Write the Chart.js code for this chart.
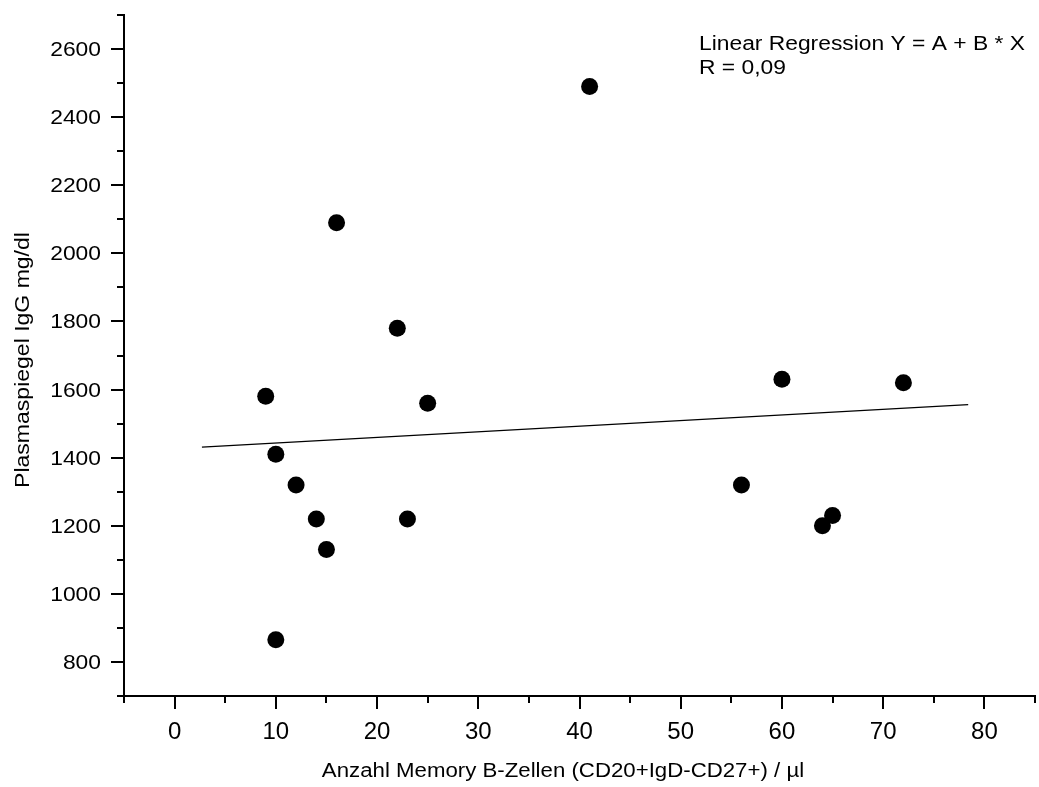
<!DOCTYPE html>
<html>
<head>
    <title>Plasmaspiegel IgG vs Memory B-Zellen</title>
    <script src="https://cdn.jsdelivr.net/npm/chart.js@4/dist/chart.umd.min.js"></script>
    <style>
        body { margin: 0; background: #fff; }
    </style>
</head>
<body>
    <canvas id="myChart" width="1039" height="787"></canvas>

    <script>
        var cellCounts = [9, 10, 10, 12, 14, 15, 16, 22, 23, 25, 41, 56, 60, 64, 65, 72];
        var iggLevels = [1580, 1410, 865, 1320, 1220, 1130, 2090, 1780, 1220, 1560, 2490, 1320, 1630, 1200, 1230, 1620];

        // fitted line, end points
        var regX = [2.7, 78.4];
        var regY = [1431, 1556];

        // axis ticks
        var xMajor = [0, 10, 20, 30, 40, 50, 60, 70, 80];
        var xMinor = [-5, 5, 15, 25, 35, 45, 55, 65, 75, 85];
        var yMajor = [800, 1000, 1200, 1400, 1600, 1800, 2000, 2200, 2400, 2600];
        var yMinor = [700, 900, 1100, 1300, 1500, 1700, 1900, 2100, 2300, 2500, 2700];

        var xTitle = 'Anzahl Memory B-Zellen (CD20+IgD-CD27+) / \u00b5l';
        var yTitle = 'Plasmaspiegel IgG mg/dl';
        var noteLines = ['Linear Regression Y = A + B * X', 'R = 0,09'];

        var FONT = '"Liberation Sans", Arial, sans-serif';

        function drawText(ctx, str, x, y, size, sx, align, rot) {
            ctx.save();
            ctx.translate(x, y);
            if (rot) ctx.rotate(rot);
            ctx.scale(sx, 1);
            ctx.font = size + 'px ' + FONT;
            ctx.fillStyle = '#000';
            ctx.textAlign = align;
            ctx.textBaseline = 'alphabetic';
            ctx.fillText(str, 0, 0);
            ctx.restore();
        }

        // ticks, tick labels, titles and the note
        var axisDecor = {
            id: 'axisDecor',
            afterDraw: function (chart) {
                var ctx = chart.ctx;
                var xs = chart.scales.x, ys = chart.scales.y;
                var area = chart.chartArea;
                var left = area.left, bottom = area.bottom;

                ctx.save();
                ctx.strokeStyle = '#000';
                ctx.lineWidth = 2;
                ctx.beginPath();
                xMajor.forEach(function (v) {
                    var px = Math.round(xs.getPixelForValue(v));
                    ctx.moveTo(px, bottom); ctx.lineTo(px, bottom + 13);
                });
                xMinor.forEach(function (v) {
                    var px = Math.round(xs.getPixelForValue(v));
                    ctx.moveTo(px, bottom); ctx.lineTo(px, bottom + 7);
                });
                yMajor.forEach(function (v) {
                    var py = Math.round(ys.getPixelForValue(v));
                    ctx.moveTo(left, py); ctx.lineTo(left - 13, py);
                });
                yMinor.forEach(function (v) {
                    var py = Math.round(ys.getPixelForValue(v));
                    ctx.moveTo(left, py); ctx.lineTo(left - 7, py);
                });
                ctx.stroke();
                ctx.restore();

                xMajor.forEach(function (v) {
                    drawText(ctx, String(v), xs.getPixelForValue(v), bottom + 43, 24, 1, 'center');
                });
                yMajor.forEach(function (v) {
                    drawText(ctx, String(v), left - 23, ys.getPixelForValue(v) + 7, 19.5, 1.17, 'right');
                });

                drawText(ctx, xTitle, 563, 777, 19.5, 1.14, 'center');
                drawText(ctx, yTitle, 28.5, 360, 19.5, 1.18, 'center', -Math.PI / 2);

                drawText(ctx, noteLines[0], 699, 50, 19.5, 1.17, 'left');
                drawText(ctx, noteLines[1], 699, 73.5, 19.5, 1.17, 'left');
            }
        };

        var points = cellCounts.map(function (x, i) { return { x: x, y: iggLevels[i] }; });
        var fitLine = regX.map(function (x, i) { return { x: x, y: regY[i] }; });

        var ctx = document.getElementById('myChart').getContext('2d');
        var chart = new Chart(ctx, {
            type: 'scatter',
            data: {
                datasets: [{
                    label: 'Fit',
                    data: fitLine,
                    showLine: true,
                    borderColor: '#000',
                    borderWidth: 1.3,
                    pointRadius: 0,
                    fill: false,
                    order: 2
                }, {
                    label: 'IgG',
                    data: points,
                    backgroundColor: '#000',
                    borderWidth: 0,
                    pointRadius: 8.5,
                    order: 1
                }]
            },
            options: {
                responsive: false,
                animation: false,
                layout: { autoPadding: false, padding: { top: 15, right: 4, left: 0, bottom: 0 } },
                plugins: {
                    legend: { display: false },
                    tooltip: { enabled: false }
                },
                scales: {
                    x: {
                        type: 'linear',
                        min: -5,
                        max: 85,
                        grid: { display: false },
                        border: { display: true, color: '#000', width: 2 },
                        ticks: { display: false },
                        afterFit: function (scale) { scale.height = 91; }
                    },
                    y: {
                        type: 'linear',
                        min: 700,
                        max: 2700,
                        grid: { display: false },
                        border: { display: true, color: '#000', width: 2 },
                        ticks: { display: false },
                        afterFit: function (scale) { scale.width = 124; }
                    }
                }
            },
            plugins: [axisDecor]
        });
    </script>
</body>
</html>
